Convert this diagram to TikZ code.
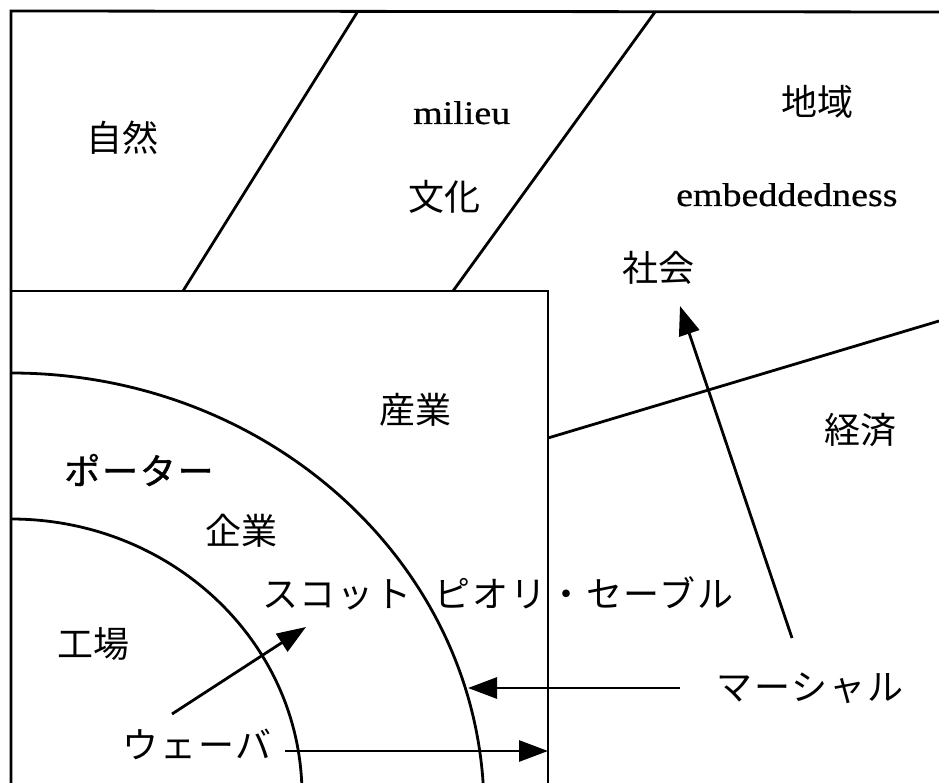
\documentclass[tikz,border=0pt]{standalone}
\usepackage{fontspec}
\setmainfont{Liberation Serif}
\newfontfamily\latinfont{Liberation Serif}[FakeBold=0.6]
\newfontfamily\jpfont{Noto Sans CJK JP}
\newfontfamily\jpkana{Noto Sans CJK JP}[LetterSpace=5]
\newfontfamily\jpkanabold{Noto Sans CJK JP}[LetterSpace=5,FakeBold=1.2]
\usetikzlibrary{arrows.meta}
\tikzset{
  ln/.style={line width=2.8pt},
  arr/.style={line width=2.8pt, -{Triangle[length=29pt,width=21pt]}},
  kanji/.style={inner sep=0pt, font=\jpfont\fontsize{36pt}{40pt}\selectfont},
  kana/.style={inner sep=0pt, font=\jpkana\fontsize{36pt}{40pt}\selectfont},
  latin/.style={inner sep=0pt, anchor=base west, font=\latinfont\fontsize{33pt}{37pt}\selectfont},
}
\newcommand{\widetext}[1]{\scalebox{1.15}[1]{#1}}
\begin{document}
\begin{tikzpicture}[x=1pt,y=1pt]
\useasboundingbox (0,0) rectangle (939,-783);
\clip (0,0) rectangle (939,-783);
\fill[white] (0,0) rectangle (939,-783);

% outer frame
\coordinate (TL) at (11,-11);
\coordinate (TR) at (939,-12);
\coordinate (BL) at (11,-783);
\draw[ln] (TR) -- (TL) -- (BL);
% inner box
\coordinate (IBl) at (11,-291);
\coordinate (IBr) at (548,-291);
\coordinate (IBb) at (548,-783);
\draw[ln] (IBl) -- (IBr) -- (IBb);
% diagonals
\coordinate (D1t) at (358,-11);
\coordinate (D1b) at (183,-291);
\coordinate (D2t) at (655,-12);
\coordinate (D2b) at (453,-291);
\draw[ln] (D1t) -- (D1b);
\draw[ln] (D2t) -- (D2b);
% economy boundary
\coordinate (E1) at (548,-438);
\coordinate (E2) at (939,-321);
\draw[ln] (E1) -- (E2);
% arcs
\coordinate (A1) at (11,-373);
\coordinate (A2) at (11,-519);
\draw[ln] (A1) arc[start angle=90,end angle=0,x radius=473pt,y radius=437pt];
\draw[ln] (A2) arc[start angle=90,end angle=0,x radius=291pt,y radius=276pt];

% texts
\node[kanji] (shizen) at (122,-138) {自然};
\node[latin] (milieu) at (413,-124) {\widetext{milieu}};
\node[kanji] (bunka) at (444,-197) {文化};
\node[kanji] (chiiki) at (817,-102) {地域};
\node[latin] (embed) at (676,-206) {\widetext{embeddedness}};
\node[kanji] (shakai) at (658,-268) {社会};
\node[kanji] (sangyo) at (415,-410) {産業};
\node[kanji] (keizai) at (860,-430) {経済};
\node[kana, font=\jpkanabold\fontsize{36pt}{40pt}\selectfont] (porter) at (139,-470) {ポーター};
\node[kanji] (kigyo) at (241,-531) {企業};
\node[kana, anchor=west] (scott) at (262,-593) {スコット\hspace{0.65em}ピオリ・セーブル};
\node[kanji] (kojo) at (93,-644) {工場};
\node[kana] (marshall) at (810,-688) {マーシャル};
\node[kana] (weber) at (197,-744) {ウェーバ};

% arrows
\coordinate (m1s) at (792,-638);
\coordinate (m1e) at (680,-306);
\coordinate (m2s) at (680,-688);
\coordinate (m2e) at (468,-688);
\coordinate (w1s) at (285,-751);
\coordinate (w1e) at (548,-751);
\coordinate (w2s) at (172,-714);
\coordinate (w2e) at (306,-627);
\draw[arr] (m1s) -- (m1e);
\draw[arr] (m2s) -- (m2e);
\draw[arr] (w1s) -- (w1e);
\draw[arr] (w2s) -- (w2e);
\end{tikzpicture}
\end{document}
